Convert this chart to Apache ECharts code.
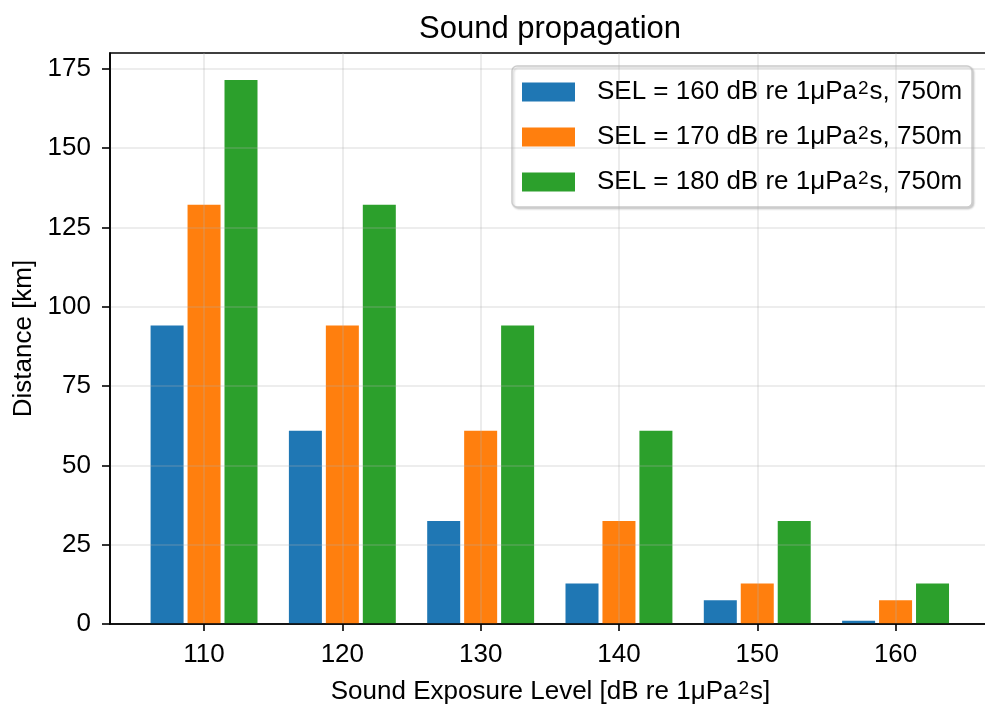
<!DOCTYPE html>
<html>
<head>
<meta charset="utf-8">
<script src="https://cdn.jsdelivr.net/npm/echarts@6/dist/echarts.min.js"></script>
<style>
  html, body { margin: 0; padding: 0; background: #ffffff; }
  #chart { width: 985px; height: 705px; }
</style>
</head>
<body>
<div id="chart"></div>
<script>
// Receiver sound exposure level (x) vs. propagation distance, one series per source level
const SEL_LEVELS = [110, 120, 130, 140, 150, 160];
const SOURCE_LEVELS = [160, 170, 180];
const DIST_SEL160 = [94.1, 60.9, 32.5, 12.8, 7.5, 1.0];
const DIST_SEL170 = [132.2, 94.1, 60.9, 32.5, 12.8, 7.5];
const DIST_SEL180 = [171.5, 132.2, 94.1, 60.9, 32.5, 12.8];
const X_TICKS = [110, 120, 130, 140, 150, 160];
const Y_TICKS = [0, 25, 50, 75, 100, 125, 150, 175];

const COLORS = ['#1f77b4', '#ff7f0e', '#2ca02c'];
const FONT = "'Liberation Sans', Arial, Helvetica, sans-serif";
const SERIES_VALUES = [DIST_SEL160, DIST_SEL170, DIST_SEL180];
const seriesName = lvl => 'SEL = ' + lvl + ' dB re 1\u03bcPa\u00b2s, 750m';

// rich-text styles for the superscript "2"
const RICH = {
  t: { fontSize: 26, fontFamily: FONT, color: '#000', lineHeight: 26 },
  p: { fontSize: 26, fontFamily: FONT, color: '#000', lineHeight: 26, padding: [0, 0, 0, 17] },
  s: { fontSize: 19, fontFamily: FONT, color: '#000', lineHeight: 15, verticalAlign: 'top', padding: [0, 1, 0, 1] }
};

const chart = echarts.init(document.getElementById('chart'), null, { renderer: 'canvas' });

const series = SOURCE_LEVELS.map((lvl, k) => ({
  name: seriesName(lvl),
  type: 'bar',
  barWidth: 33,
  barGap: '12%',
  itemStyle: { color: COLORS[k] },
  emphasis: { disabled: true },
  data: SEL_LEVELS.map((x, i) => [x, SERIES_VALUES[k][i]])
}));

chart.setOption({
  animation: false,
  backgroundColor: '#ffffff',
  title: {
    text: 'Sound propagation',
    left: 550,
    top: 14,
    padding: 0,
    textAlign: 'center',
    textStyle: { fontFamily: FONT, fontSize: 31, fontWeight: 'normal', color: '#000' }
  },
  grid: {
    left: 110, top: 53, width: 881, height: 571,
    outerBoundsMode: 'none',
    containLabel: false,
    show: true, borderColor: '#000', borderWidth: 1.6, backgroundColor: 'transparent'
  },
  legend: {
    orient: 'vertical',
    left: 512, top: 66,
    padding: [13, 10, 12, 10],
    itemWidth: 53, itemHeight: 19, itemGap: 19,
    icon: 'rect',
    backgroundColor: '#ffffff',
    borderColor: '#cccccc', borderWidth: 1.5, borderRadius: 5,
    shadowColor: 'rgba(0,0,0,0.18)', shadowBlur: 2, shadowOffsetX: 1.5, shadowOffsetY: 1.5,
    itemStyle: { borderWidth: 0 },
    data: SOURCE_LEVELS.map(seriesName),
    formatter: name => {
      const parts = name.split('\u00b2');
      return '{p|' + parts[0] + '}{s|2}{t|' + parts[1] + '}';
    },
    textStyle: { fontFamily: FONT, fontSize: 26, color: '#000', rich: RICH }
  },
  xAxis: {
    type: 'value',
    min: 103.2, max: 166.9,
    z: 5,
    name: '{t|Sound Exposure Level [dB re 1\u03bcPa}{s|2}{t|s]}',
    nameLocation: 'middle',
    nameGap: 55,
    nameTextStyle: { fontFamily: FONT, fontSize: 26, color: '#000', rich: RICH },
    axisLine: { show: true, onZero: false, lineStyle: { color: '#000', width: 1.6 } },
    axisTick: { show: true, length: 7, customValues: X_TICKS, lineStyle: { color: '#000', width: 1.6 } },
    axisLabel: { customValues: X_TICKS, margin: 18, fontFamily: FONT, fontSize: 26, color: '#000' },
    splitLine: { show: true, lineStyle: { color: 'rgba(176,176,176,0.3)', width: 1.6 } }
  },
  yAxis: {
    type: 'value',
    min: 0, max: 180,
    z: 5,
    name: 'Distance [km]',
    nameLocation: 'middle',
    nameGap: 70,
    nameTextStyle: { fontFamily: FONT, fontSize: 26, color: '#000' },
    axisLine: { show: true, lineStyle: { color: '#000', width: 1.6 } },
    axisTick: { show: true, length: 8, customValues: Y_TICKS, lineStyle: { color: '#000', width: 1.6 } },
    axisLabel: { customValues: Y_TICKS, margin: 19, fontFamily: FONT, fontSize: 26, color: '#000' },
    splitLine: { show: true, lineStyle: { color: 'rgba(176,176,176,0.3)', width: 1.6 } }
  },
  series: series
});
</script>
</body>
</html>
